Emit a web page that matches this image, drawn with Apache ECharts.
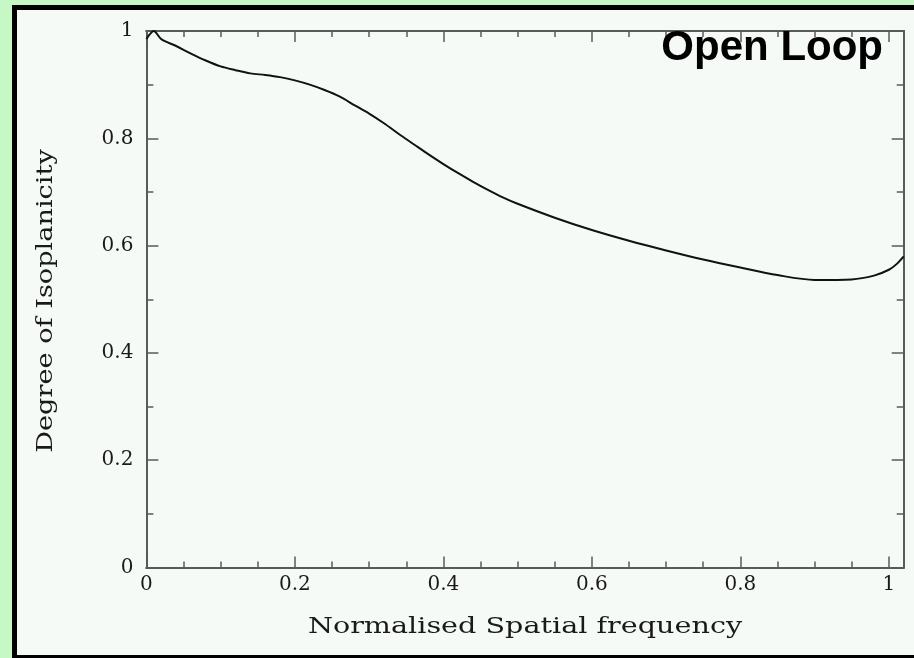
<!DOCTYPE html>
<html><head><meta charset="utf-8">
<script src="https://cdn.jsdelivr.net/npm/echarts@6/dist/echarts.min.js"></script>
<style>
html,body{margin:0;padding:0;background:#c6f8c6;width:914px;height:658px;overflow:hidden;}
#frame{position:absolute;left:12px;top:5px;width:897px;height:645px;background:#f6faf7;border-left:5px solid #000;border-top:5px solid #000;border-bottom:5px solid #000;}
#chart{position:absolute;left:0;top:0;width:914px;height:658px;}
</style></head>
<body>
<div id="frame"></div>
<div id="chart"></div>
<script>
const freq = [0,0.01,0.02,0.04,0.06,0.08,0.10,0.12,0.14,0.16,0.18,0.20,0.22,0.24,0.26,0.28,0.30,0.32,0.34,0.36,0.38,0.40,0.42,0.44,0.46,0.48,0.50,0.55,0.60,0.65,0.70,0.75,0.80,0.85,0.90,0.95,0.98,1.00,1.01,1.02];
const isoplanicity = [0.985,1.0,0.985,0.972,0.958,0.945,0.934,0.927,0.921,0.918,0.914,0.908,0.900,0.890,0.878,0.862,0.846,0.828,0.808,0.789,0.770,0.752,0.735,0.719,0.704,0.690,0.678,0.652,0.629,0.609,0.591,0.574,0.559,0.545,0.536,0.537,0.544,0.555,0.565,0.58];
const xMajorTicks = [0,0.2,0.4,0.6,0.8,1.0];
const xMinorTicks = [0.05,0.1,0.15,0.25,0.3,0.35,0.45,0.5,0.55,0.65,0.7,0.75,0.85,0.9,0.95];
const yMajorTicks = [0,0.2,0.4,0.6,0.8,1.0];
const yMinorTicks = [0.1,0.3,0.5,0.7,0.9];
const xLabels = ['0','0.2','0.4','0.6','0.8','1'];
const yLabels = ['0','0.2','0.4','0.6','0.8','1'];

const AX = '#5a5a5a';
const labelFont = {fontFamily:'DejaVu Serif', fontSize:20, color:'#1a1a1a'};
function xAx(pos, vals, len, withLabel){
  return {type:'value', min:0, max:1.02, position:pos, gridIndex:0,
    axisLine:{show:true, onZero:false, lineStyle:{color:AX,width:2}},
    axisTick:{show:true, inside:true, length:len, customValues:vals, lineStyle:{color:AX,width:1.5}},
    axisLabel:{show:withLabel, customValues:xMajorTicks, margin:7,
      formatter:(v)=>{const i=xMajorTicks.findIndex(t=>Math.abs(t-v)<1e-9);return i>=0?xLabels[i]:'';}, ...labelFont},
    splitLine:{show:false}};
}
function yAx(pos, vals, len, withLabel){
  return {type:'value', min:0, max:1, position:pos, gridIndex:0,
    axisLine:{show:true, onZero:false, lineStyle:{color:AX,width:2}},
    axisTick:{show:true, inside:true, length:len, customValues:vals, lineStyle:{color:AX,width:1.5}},
    axisLabel:{show:withLabel, customValues:yMajorTicks, margin:13,
      formatter:(v)=>{const i=yMajorTicks.findIndex(t=>Math.abs(t-v)<1e-9);return i>=0?yLabels[i]:'';}, ...labelFont},
    splitLine:{show:false}};
}
const xAxes = [xAx('bottom', xMajorTicks, 11, true), xAx('bottom', xMinorTicks, 6, false), xAx('top', xMajorTicks, 11, false), xAx('top', xMinorTicks, 6, false)];
const yAxes = [yAx('left', yMajorTicks, 12, true), yAx('left', yMinorTicks, 7, false), yAx('right', yMajorTicks, 12, false), yAx('right', yMinorTicks, 7, false)];

const chart = echarts.init(document.getElementById('chart'), null, {renderer:'canvas'});
chart.setOption({
  backgroundColor:'transparent',
  animation:false,
  title:{text:'Open Loop', right:26, top:22, textStyle:{fontFamily:'Liberation Sans', fontWeight:'bold', fontSize:42, color:'#000'}},
  grid:{left:146.4, right:10.3, top:31, bottom:90.5, containLabel:false},
  xAxis:xAxes,
  yAxis:yAxes,
  graphic:[
    {type:'text', x:525, y:627, scaleX:1.245, style:{text:'Normalised Spatial frequency', font:'23px "DejaVu Serif"', fill:'#1a1a1a', align:'center', verticalAlign:'middle'}},
    {type:'text', x:46, y:301, rotation:Math.PI/2, scaleX:1.18, style:{text:'Degree of Isoplanicity', font:'23px "DejaVu Serif"', fill:'#1a1a1a', align:'center', verticalAlign:'middle'}}
  ],
  series:[{type:'line', xAxisIndex:0, yAxisIndex:0, smooth:0.3, symbol:'none',
    data:freq.map((f,i)=>[f,isoplanicity[i]]), lineStyle:{color:'#111', width:2}}]
});
</script>
</body></html>
